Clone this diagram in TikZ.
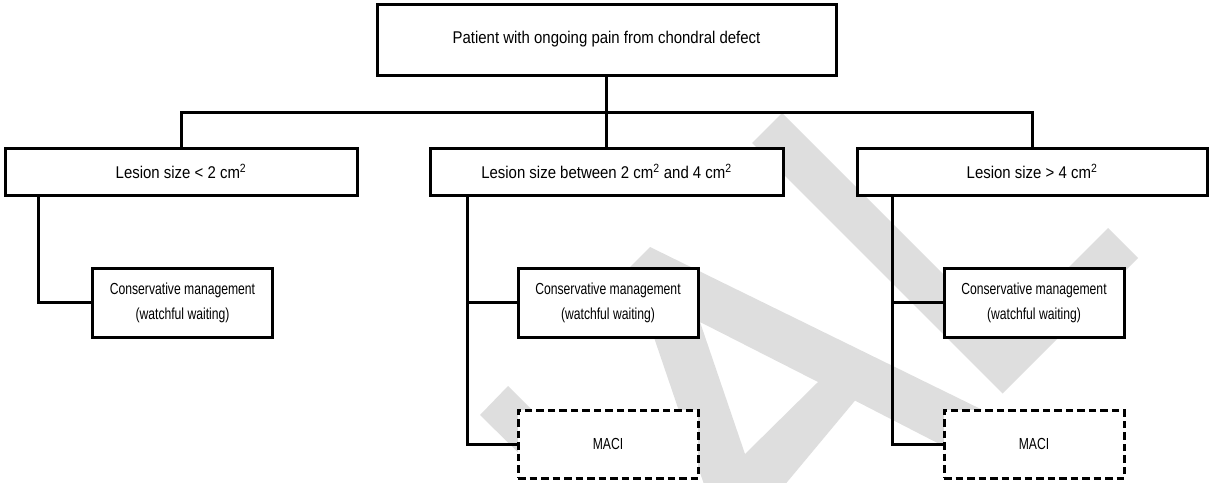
\documentclass[tikz,border=0pt]{standalone}
\usepackage{fontspec}
\setmainfont{Liberation Sans}
\newfontfamily\bigfont{Liberation Sans}[FakeStretch=0.88]
\newfontfamily\smallfont{Liberation Sans}[FakeStretch=0.76]
\definecolor{wm}{RGB}{222,222,222}
\begin{document}
\begin{tikzpicture}[x=1pt,y=-1pt,
  box/.style={draw=black,line width=3pt,fill=white,inner sep=0pt,outer sep=0pt,align=center},
  topbox/.style={box,minimum width=459pt,minimum height=71pt,font=\bigfont\fontsize{17}{20}\selectfont},
  lesbox/.style={box,minimum height=47pt,font=\bigfont\fontsize{17}{20}\selectfont},
  treatbox/.style={box,minimum width=180pt,minimum height=69pt,font=\smallfont\fontsize{16}{25}\selectfont},
  macibox/.style={treatbox,minimum height=68pt,dash pattern=on 7.5pt off 4pt},
  link/.style={line width=3pt}]
\useasboundingbox (0,0) rectangle (1212,482);
% watermark
\begin{scope}
\clip (0,0) rectangle (1212,482);
\fill[wm] (752,143) -- (782,113) -- (1002.5,333.5) -- (1108,228) -- (1138,258) -- (1002.5,393.5) -- cycle;
\fill[wm,even odd rule] (630,267) -- (650,247) -- (990,413.6) -- (990,470) -- (855,400.6) -- (770,502.6) -- (710,502) -- cycle
  (700,322) -- (818,382) -- (745,454) -- cycle;
\fill[wm] (480,415) -- (508,386) -- (570,448) -- (542,476) -- cycle;
\end{scope}
% nodes
\node[topbox] (top) at (606.5,39.5) {Patient with ongoing pain from chondral defect};
\node[lesbox,minimum width=352pt] (left) at (181,171.5) {Lesion size < 2 cm\textsuperscript{2}};
\node[lesbox,minimum width=353pt] (mid) at (606.5,171.5) {Lesion size between 2 cm\textsuperscript{2} and 4 cm\textsuperscript{2}};
\node[lesbox,minimum width=350pt] (right) at (1032,171.5) {Lesion size > 4 cm\textsuperscript{2}};
\node[treatbox] (lc) at (182.5,302.5) {Conservative management\\(watchful waiting)};
\node[treatbox] (mc) at (608,302.5) {Conservative management\\(watchful waiting)};
\node[treatbox] (rc) at (1034,302.5) {Conservative management\\(watchful waiting)};
\node[macibox] (mm) at (608,444) {MACI};
\node[macibox] (rm) at (1034,444) {MACI};
\coordinate (bus) at (606.5,112);
% connectors
\draw[link] (top.south) -- (mid.north);
\draw[link] (left.north) |- (bus) -| (right.north);
\draw[link] ([xshift=33pt]left.south west) |- (lc.west);
\draw[link] ([xshift=37pt]mid.south west) |- (mm.west);
\draw[link] ([xshift=37pt]mid.south west) |- (mc.west);
\draw[link] ([xshift=35pt]right.south west) |- (rm.west);
\draw[link] ([xshift=35pt]right.south west) |- (rc.west);
\end{tikzpicture}
\end{document}
